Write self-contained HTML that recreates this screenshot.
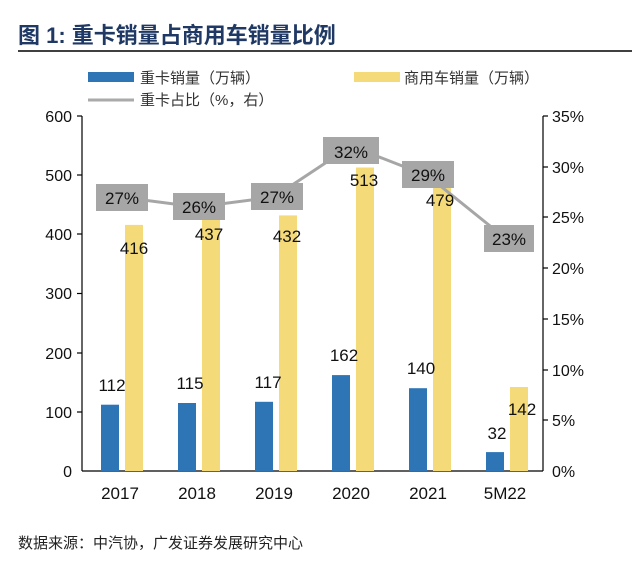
<!DOCTYPE html><html><head><meta charset="utf-8"><style>body{margin:0;background:#fff}</style></head><body>
<svg width="640" height="556" xmlns="http://www.w3.org/2000/svg" font-family="Liberation Sans, Noto Sans CJK SC, sans-serif">
<text x="18" y="43" font-size="22" font-weight="bold" fill="#1f3864" font-family="Liberation Sans, Noto Sans CJK SC, sans-serif">图 1: 重卡销量占商用车销量比例</text>
<line x1="18" y1="51" x2="632" y2="51" stroke="#000" stroke-width="1.5"/>
<rect x="88" y="72" width="46" height="10" fill="#2e75b6"/>
<text x="140" y="83" font-size="15" fill="#333">重卡销量（万辆）</text>
<rect x="354" y="72" width="46" height="10" fill="#f5da7a"/>
<text x="404" y="83" font-size="15" fill="#333">商用车销量（万辆）</text>
<line x1="88" y1="100" x2="134" y2="100" stroke="#aaa" stroke-width="3"/>
<text x="140" y="105" font-size="15" fill="#333">重卡占比（%，右）</text>
<g stroke="#000" stroke-width="1.2">
<line x1="82" y1="116" x2="82" y2="471"/><line x1="543" y1="116" x2="543" y2="471"/><line x1="82" y1="471" x2="543" y2="471"/>
<line x1="77" y1="116" x2="82" y2="116"/><line x1="77" y1="175" x2="82" y2="175"/><line x1="77" y1="234" x2="82" y2="234"/><line x1="77" y1="293.5" x2="82" y2="293.5"/><line x1="77" y1="353" x2="82" y2="353"/><line x1="77" y1="412" x2="82" y2="412"/>
<line x1="543" y1="116" x2="548" y2="116"/><line x1="543" y1="167" x2="548" y2="167"/><line x1="543" y1="217" x2="548" y2="217"/><line x1="543" y1="268" x2="548" y2="268"/><line x1="543" y1="319" x2="548" y2="319"/><line x1="543" y1="370" x2="548" y2="370"/><line x1="543" y1="420" x2="548" y2="420"/>
</g>
<g font-size="16" fill="#111" text-anchor="end">
<text x="72" y="122">600</text><text x="72" y="181">500</text><text x="72" y="240">400</text><text x="72" y="299">300</text><text x="72" y="359">200</text><text x="72" y="418">100</text><text x="72" y="477">0</text></g>
<g font-size="16" fill="#111">
<text x="552" y="122">35%</text><text x="552" y="173">30%</text><text x="552" y="223">25%</text><text x="552" y="274">20%</text><text x="552" y="325">15%</text><text x="552" y="376">10%</text><text x="552" y="426">5%</text><text x="552" y="477">0%</text></g>
<g fill="#2e75b6">
<rect x="101" y="404.7" width="18" height="66.3"/><rect x="178" y="403" width="18" height="68"/><rect x="255" y="401.8" width="18" height="69.2"/><rect x="332" y="375.1" width="18" height="95.9"/><rect x="409" y="388.2" width="18" height="82.8"/><rect x="486" y="452.1" width="18" height="18.9"/></g>
<g fill="#f5da7a">
<rect x="125" y="224.9" width="18" height="246.1"/><rect x="202" y="212.4" width="18" height="258.6"/><rect x="279" y="215.4" width="18" height="255.6"/><rect x="356" y="167.5" width="18" height="303.5"/><rect x="433" y="187.6" width="18" height="283.4"/><rect x="510" y="387" width="18" height="84"/></g>
<polyline points="120,197 197,207 274,197 351,146 428,176 505,238" fill="none" stroke="#a6a6a6" stroke-width="3"/>
<g fill="#a6a6a6">
<rect x="96" y="184" width="52" height="27"/><rect x="173" y="193" width="52" height="27"/><rect x="251" y="183" width="52" height="27"/><rect x="323" y="137" width="56" height="27"/><rect x="402" y="161" width="52" height="27"/><rect x="484" y="225" width="50" height="27"/></g>
<g font-size="17" fill="#111" text-anchor="middle">
<text x="122" y="204">27%</text><text x="199" y="213">26%</text><text x="277" y="203">27%</text><text x="351" y="158">32%</text><text x="428" y="181">29%</text><text x="509" y="245">23%</text>
<text x="134" y="254">416</text><text x="209" y="240">437</text><text x="287" y="242">432</text><text x="364" y="186">513</text><text x="440" y="206">479</text><text x="522" y="415">142</text>
<text x="112" y="391">112</text><text x="190" y="389">115</text><text x="268" y="388">117</text><text x="344" y="361">162</text><text x="421" y="374">140</text><text x="497" y="439">32</text>
<text x="120" y="499">2017</text><text x="197" y="499">2018</text><text x="274" y="499">2019</text><text x="351" y="499">2020</text><text x="428" y="499">2021</text><text x="505" y="499">5M22</text></g>
<text x="18" y="548" font-size="15" fill="#222">数据来源：中汽协，广发证券发展研究中心</text>
</svg></body></html>
